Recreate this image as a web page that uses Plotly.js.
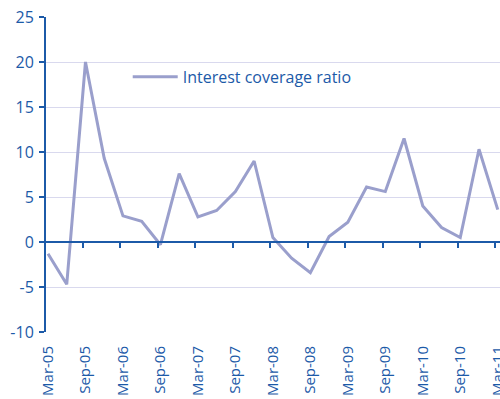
<!DOCTYPE html>
<html><head><meta charset="utf-8">
<script src="https://cdn.plot.ly/plotly-3.0.1.min.js"></script>
<style>html,body{margin:0;padding:0;background:#fff}#chart{width:500px;height:399px}</style>
</head><body><div id="chart"></div>
<script>
const quarters = ["Mar-05","Jun-05","Sep-05","Dec-05","Mar-06","Jun-06","Sep-06","Dec-06","Mar-07","Jun-07","Sep-07","Dec-07","Mar-08","Jun-08","Sep-08","Dec-08","Mar-09","Jun-09","Sep-09","Dec-09","Mar-10","Jun-10","Sep-10","Dec-10","Mar-11"];
const coverage = [-1.3,-4.7,20.0,9.3,2.9,2.3,-0.3,7.6,2.8,3.5,5.6,9.0,0.5,-1.8,-3.4,0.6,2.2,6.1,5.6,11.5,4.0,1.6,0.5,10.3,3.6];
const seriesName = "Interest coverage ratio";
const tickLabels = ["Mar-05","Sep-05","Mar-06","Sep-06","Mar-07","Sep-07","Mar-08","Sep-08","Mar-09","Sep-09","Mar-10","Sep-10","Mar-11"];
const yTickVals = [-10,-5,0,5,10,15,20,25];
const yTickLabels = ["-10","-5","0","5","10","15","20","25"];

const idx = quarters.map((q,i)=>i);
const tickIdx = tickLabels.map(l=>quarters.indexOf(l));
const blue = "#1c5aa8";
const font = {family:"Open Sans, sans-serif", size:16, color:blue};
const xfont = {family:"Open Sans, sans-serif", size:15, color:blue};

const data = [{
  x: idx, y: coverage, type:"scatter", mode:"lines", name: seriesName,
  line:{color:"#9a9fcc", width:3}, showlegend:true
}];
const layout = {
  width:500, height:399,
  margin:{l:46, r:0, t:17, b:67},
  paper_bgcolor:"#fff", plot_bgcolor:"#fff",
  font: font,
  showlegend:true,
  legend:{x:0.18, y:0.81, xanchor:"left", yanchor:"middle", bgcolor:"rgba(0,0,0,0)", font:font, itemwidth:45},
  xaxis:{range:[-0.107,24.12], tickvals:tickIdx, ticktext:tickLabels, tickangle:-90,
    showgrid:false, zeroline:false, showline:false, ticks:"", ticklabelstandoff:10, tickfont:xfont,
    ticklabeloverflow:"allow"},
  xaxis2:{range:[-0.107,24.12], overlaying:"x", anchor:"free", position:10/35,
    tick0:-0.14, dtick:2, ticks:"outside", ticklen:5, tickwidth:2, tickcolor:blue,
    showticklabels:false, showgrid:false, zeroline:false, showline:true, linecolor:blue, linewidth:2},
  yaxis:{range:[-10,25], tickvals:yTickVals, ticktext:yTickLabels, showgrid:true, gridcolor:"#d9d9ee", gridwidth:1,
    zeroline:false, showline:true, linecolor:blue, linewidth:2, ticks:"outside", ticklen:5, tickwidth:2,
    tickcolor:blue, tickfont:font, ticklabelstandoff:2}
};
data.push({x:[0], y:[null], xaxis:"x2", showlegend:false, hoverinfo:"skip"});
Plotly.newPlot("chart", data, layout, {staticPlot:true});
</script></body></html>
